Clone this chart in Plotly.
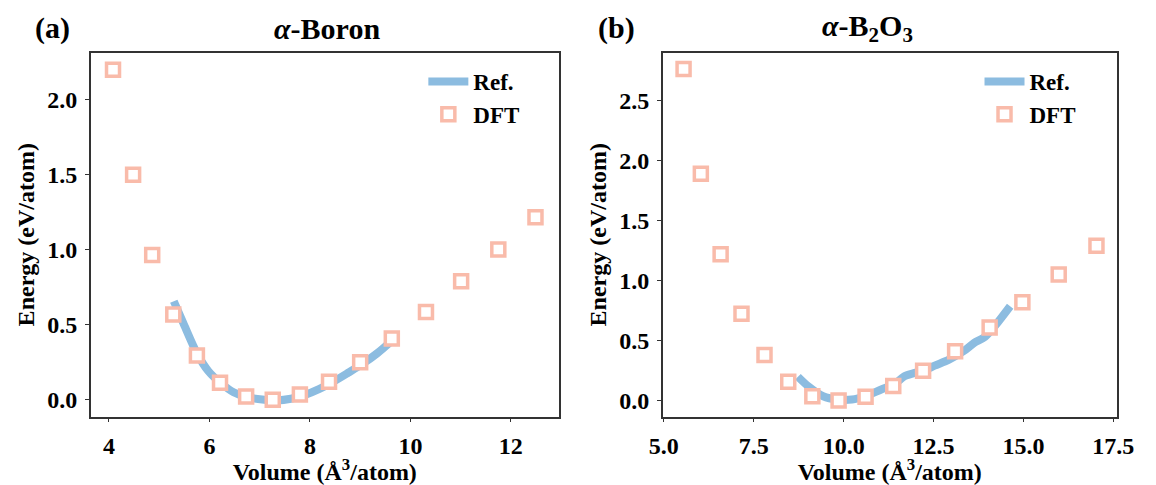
import plotly.graph_objects as go
from plotly.subplots import make_subplots

# alpha-Boron: DFT energy-volume points and reference curve
boron_dft_v = [4.08, 4.48, 4.86, 5.28, 5.75, 6.21, 6.73, 7.26, 7.80, 8.38, 9.00, 9.63, 10.31, 11.01, 11.75, 12.49]
boron_dft_e = [2.197, 1.497, 0.963, 0.568, 0.295, 0.113, 0.022, 0.000, 0.035, 0.120, 0.250, 0.408, 0.585, 0.789, 1.000, 1.215]
boron_ref_v = [5.29, 5.48, 5.75, 5.98, 6.23, 6.48, 6.76, 7.05, 7.34, 7.62, 7.90, 8.19, 8.48, 8.76, 9.05, 9.34, 9.62]
boron_ref_e = [0.656, 0.510, 0.310, 0.190, 0.110, 0.050, 0.016, 0.002, -0.004, 0.007, 0.033, 0.073, 0.124, 0.180, 0.240, 0.310, 0.390]

# alpha-B2O3: DFT energy-volume points and reference curve
b2o3_dft_v = [5.55, 6.03, 6.58, 7.16, 7.80, 8.46, 9.13, 9.86, 10.61, 11.38, 12.21, 13.10, 14.06, 14.97, 15.98, 17.03]
b2o3_dft_e = [2.760, 1.888, 1.218, 0.723, 0.380, 0.156, 0.036, 0.000, 0.031, 0.120, 0.249, 0.410, 0.609, 0.818, 1.050, 1.288]
b2o3_ref_v = [8.73, 9.03, 9.43, 9.83, 10.23, 10.63, 11.03, 11.43, 11.68, 11.93, 12.23, 12.53, 12.93, 13.33, 13.63, 13.93, 14.23, 14.63]
b2o3_ref_e = [0.198, 0.115, 0.036, 0.008, 0.008, 0.040, 0.090, 0.140, 0.200, 0.226, 0.250, 0.290, 0.340, 0.410, 0.480, 0.530, 0.630, 0.785]

boron_xticks = [4, 6, 8, 10, 12]
boron_yticks = [0.0, 0.5, 1.0, 1.5, 2.0]
b2o3_xticks = [5.0, 7.5, 10.0, 12.5, 15.0, 17.5]
b2o3_yticks = [0.0, 0.5, 1.0, 1.5, 2.0, 2.5]

W, H = 1156, 485
REF_COLOR = "rgb(140,188,224)"
DFT_COLOR = "rgb(249,187,170)"
FONT = "Liberation Serif"

fig = make_subplots(rows=1, cols=2)

def add_panel(col, ref_v, ref_e, dft_v, dft_e, legend):
    fig.add_trace(go.Scatter(
        x=ref_v, y=ref_e, mode="lines", name="Ref.",
        line=dict(color=REF_COLOR, width=8, shape="spline", smoothing=0.8),
        legend=legend,
    ), row=1, col=col)
    fig.add_trace(go.Scatter(
        x=dft_v, y=dft_e, mode="markers", name="DFT",
        marker=dict(symbol="square", size=13, color="white",
                    line=dict(color=DFT_COLOR, width=3.5)),
        legend=legend,
    ), row=1, col=col)

add_panel(1, boron_ref_v, boron_ref_e, boron_dft_v, boron_dft_e, "legend")
add_panel(2, b2o3_ref_v, b2o3_ref_e, b2o3_dft_v, b2o3_dft_e, "legend2")

tick_font = dict(family=FONT, size=24, color="black", weight="bold")
axis_common = dict(
    showline=True, linecolor="#333333", linewidth=1.6, mirror=True,
    ticks="outside", ticklen=4, tickwidth=1.3, tickcolor="#333333",
    showgrid=False, zeroline=False, tickfont=tick_font, ticklabelstandoff=3,
)

ytop, ybot = 1 - 53 / H, 1 - 416.5 / H
fig.update_xaxes(domain=[79 / W, 560.3 / W], range=[3.638, 12.954],
                 tickvals=boron_xticks, tickformat="d", **axis_common, row=1, col=1)
fig.update_xaxes(domain=[667.3 / W, 1134 / W], range=[4.973, 17.59],
                 tickvals=b2o3_xticks, tickformat=".1f", **axis_common, row=1, col=2)
fig.update_yaxes(domain=[ybot, ytop], range=[-0.111, 2.308],
                 tickvals=boron_yticks, tickformat=".1f", **axis_common, row=1, col=1)
fig.update_yaxes(domain=[ybot, ytop], range=[-0.133, 2.894],
                 tickvals=b2o3_yticks, tickformat=".1f", **axis_common, row=1, col=2)

title_font = dict(family=FONT, size=24, color="black", weight="bold")
for col in (1, 2):
    fig.update_xaxes(title=dict(text="Volume (Å<sup>3</sup>/atom)", font=title_font, standoff=6),
                     row=1, col=col)
    fig.update_yaxes(title=dict(text="Energy (eV/atom)", font=title_font, standoff=6),
                     row=1, col=col)

legend_style = dict(font=dict(family=FONT, size=23, color="black", weight="bold"),
                    bgcolor="rgba(0,0,0,0)", xanchor="left", yanchor="top",
                    tracegroupgap=0, itemwidth=40)

head_font = dict(family=FONT, size=30, color="black", weight="bold")
annotations = [
    dict(text="(a)", x=40 / W, y=1 - 28 / H),
    dict(text="<i>α</i>-Boron", x=322 / W, y=1 - 28 / H),
    dict(text="(b)", x=620 / W, y=1 - 28 / H),
    dict(text="<i>α</i>-B<sub>2</sub>O<sub>3</sub>", x=878 / W, y=1 - 28 / H),
]
for a in annotations:
    a.update(xref="paper", yref="paper", xanchor="center", yanchor="middle",
             showarrow=False, font=head_font)

fig.update_layout(
    width=W, height=H,
    margin=dict(l=0, r=0, t=0, b=0),
    paper_bgcolor="white", plot_bgcolor="white",
    showlegend=True,
    legend=dict(x=421 / W, y=1 - 60 / H, **legend_style),
    legend2=dict(x=993 / W, y=1 - 60 / H, **legend_style),
    annotations=annotations,
)

fig.write_html("out.html")
